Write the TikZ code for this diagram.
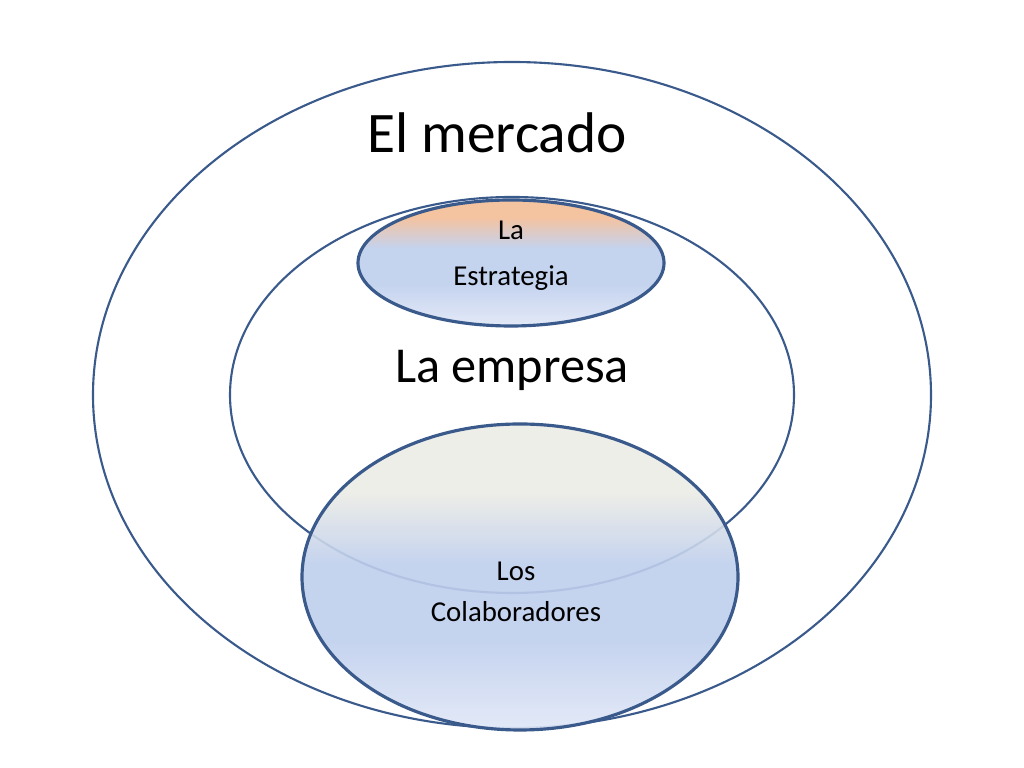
\documentclass[tikz,border=0pt]{standalone}
\usepackage{fontspec}
\setmainfont{Carlito}
\usetikzlibrary{positioning}
\definecolor{rim}{RGB}{58,90,140}
\definecolor{peach}{RGB}{243,188,150}
\definecolor{paleblue}{RGB}{190,206,236}
\definecolor{lightblue}{RGB}{224,231,247}
\definecolor{greyish}{RGB}{236,236,230}
\pgfdeclareverticalshading{stratshade}{100bp}{color(0bp)=(lightblue); color(25bp)=(lightblue);
  color(42bp)=(paleblue); color(56bp)=(paleblue); color(68bp)=(peach); color(75bp)=(peach); color(100bp)=(peach)}
\pgfdeclareverticalshading{colabshade}{100bp}{color(0bp)=(lightblue); color(25bp)=(lightblue);
  color(40bp)=(paleblue); color(52bp)=(paleblue); color(64bp)=(greyish); color(75bp)=(greyish); color(100bp)=(greyish)}
\tikzset{
  ring/.style={draw=rim, line width=0.6pt},
  blob/.style={draw=rim, line width=0.9pt, fill opacity=0.9}
}
\begin{document}
\begin{tikzpicture}[x=0.01cm,y=-0.01cm]
\useasboundingbox (0,0) rectangle (1024,768);

	% outer and middle rings
	\draw[ring] (512,395) ellipse [x radius=419, y radius=333];
	\draw[ring] (512,395) ellipse [x radius=282, y radius=198];

	% the two filled ellipses
	\shade[blob, shading=stratshade] (511,263) ellipse [x radius=153, y radius=63];
	\shade[blob, shading=colabshade] (520,577) ellipse [x radius=218, y radius=153];

	\node[font=\fontsize{16.3}{18}\selectfont] (market) at (497,133) {El mercado};
	\node[font=\fontsize{14.3}{16}\selectfont] (company) at (512,370) {La empresa};
	\node[align=center, font=\fontsize{8.2}{13}\selectfont] (strategy) at (511,256) {La\\Estrategia};
	\node[align=center, font=\fontsize{8.2}{11.5}\selectfont] (people) at (516,592) {Los\\Colaboradores};

\end{tikzpicture}
\end{document}
